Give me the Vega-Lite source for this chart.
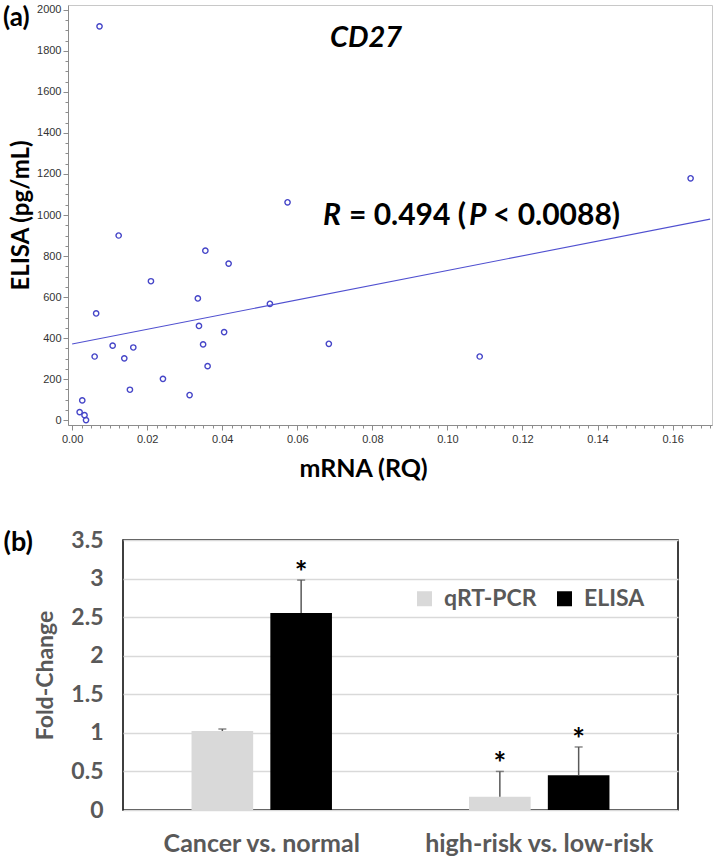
{
  "$schema": "https://vega.github.io/schema/vega-lite/v6.json",
  "padding": {"left": 1, "top": 3, "right": 0, "bottom": 0},
  "background": "white",
  "config": {"font": "Lato"},
  "datasets": {
    "points": [
      {"mrna": 0.0073, "elisa": 1920},
      {"mrna": 0.0574, "elisa": 1062},
      {"mrna": 0.0124, "elisa": 900},
      {"mrna": 0.0355, "elisa": 826},
      {"mrna": 0.0417, "elisa": 763},
      {"mrna": 0.0210, "elisa": 677},
      {"mrna": 0.0335, "elisa": 593},
      {"mrna": 0.0064, "elisa": 520},
      {"mrna": 0.0527, "elisa": 567},
      {"mrna": 0.0338, "elisa": 459},
      {"mrna": 0.0405, "elisa": 429},
      {"mrna": 0.0108, "elisa": 363},
      {"mrna": 0.0349, "elisa": 369},
      {"mrna": 0.0163, "elisa": 354},
      {"mrna": 0.0060, "elisa": 310},
      {"mrna": 0.0139, "elisa": 301},
      {"mrna": 0.0361, "elisa": 263},
      {"mrna": 0.0242, "elisa": 201},
      {"mrna": 0.0154, "elisa": 148},
      {"mrna": 0.0313, "elisa": 122},
      {"mrna": 0.0027, "elisa": 96},
      {"mrna": 0.0020, "elisa": 39},
      {"mrna": 0.0033, "elisa": 24},
      {"mrna": 0.0037, "elisa": 0},
      {"mrna": 0.0684, "elisa": 372},
      {"mrna": 0.1648, "elisa": 1179},
      {"mrna": 0.1086, "elisa": 310}
    ],
    "fit": [
      {"mrna": 0, "elisa": 371},
      {"mrna": 0.17, "elisa": 980}
    ],
    "bars": [
      {"group": "Cancer vs. normal", "method": "qRT-PCR", "fold": 1.024, "upper": 1.05, "star": ""},
      {"group": "Cancer vs. normal", "method": "ELISA", "fold": 2.553, "upper": 2.98, "star": "*"},
      {"group": "high-risk vs. low-risk", "method": "qRT-PCR", "fold": 0.172, "upper": 0.50, "star": "*"},
      {"group": "high-risk vs. low-risk", "method": "ELISA", "fold": 0.449, "upper": 0.817, "star": "*"}
    ]
  },
  "spacing": 45,
  "resolve": {"legend": {"color": "independent"}},
  "vconcat": [
    {
      "spacing": 0,
      "hconcat": [
        {
          "width": 1, "height": 1,
          "view": {"stroke": null},
          "data": {"values": [{"k": 0}]},
          "mark": {"type": "point", "opacity": 0, "size": 1, "strokeWidth": 0},
          "encoding": {}
        },
        {
          "width": 644,
          "height": 420,
          "view": {"stroke": "#c8c8c8", "strokeWidth": 1},
          "layer": [
            {
              "layer": [
                {
                  "data": {"name": "points"},
                  "mark": {"type": "point", "shape": "circle", "filled": false, "color": "#4646c8", "strokeWidth": 1.4, "size": 28, "opacity": 1},
                  "encoding": {
                    "x": {
                      "field": "mrna", "type": "quantitative",
                      "scale": {"domain": [-0.0011, 0.1705], "nice": false, "zero": false},
                      "axis": {
                        "values": [0,0.01,0.02,0.03,0.04,0.05,0.06,0.07,0.08,0.09,0.1,0.11,0.12,0.13,0.14,0.15,0.16,0.17],
                        "format": ".2f",
                        "labelFont": "Liberation Sans", "labelFontSize": 11, "labelColor": "#333333",
                        "labelPadding": 3, "labelOverlap": false, "labelFlush": false, "labelBound": false,
                        "tickColor": "#8c8c8c", "tickSize": 5,
                        "domainColor": "#8c8c8c", "grid": false,
                        "title": "mRNA (RQ)", "titleFont": "Lato", "titleFontSize": 25, "titleFontWeight": "bold", "titleColor": "#000000",
                        "titlePadding": 12, "titleX": 295, "titleAlign": "center"
                      }
                    },
                    "y": {
                      "field": "elisa", "type": "quantitative",
                      "scale": {"domain": [-24, 2024], "nice": false, "zero": false},
                      "axis": {
                        "values": [0,100,200,300,400,500,600,700,800,900,1000,1100,1200,1300,1400,1500,1600,1700,1800,1900,2000],
                        "format": "d",
                        "labelFont": "Liberation Sans", "labelFontSize": 11, "labelColor": "#333333",
                        "labelPadding": 2, "labelOverlap": false,
                        "tickColor": "#8c8c8c", "tickSize": 5,
                        "domainColor": "#8c8c8c", "grid": false,
                        "title": "ELISA (pg/mL)", "titleFont": "Lato", "titleFontSize": 24, "titleFontWeight": "bold", "titleColor": "#000000",
                        "titlePadding": 3
                      }
                    }
                  }
                },
                {
                  "data": {"name": "fit"},
                  "mark": {"type": "line", "color": "#5050d0", "strokeWidth": 1.1},
                  "encoding": {
                    "x": {"field": "mrna", "type": "quantitative"},
                    "y": {"field": "elisa", "type": "quantitative"}
                  }
                },
                {
                  "data": {"values": [{"mrna": 0.0687, "elisa": 1863, "label": "CD27"}]},
                  "mark": {"type": "text", "align": "left", "baseline": "middle", "font": "Lato", "fontWeight": "bold", "fontStyle": "italic", "fontSize": 29, "color": "#000000"},
                  "encoding": {
                    "x": {"field": "mrna", "type": "quantitative"},
                    "y": {"field": "elisa", "type": "quantitative"},
                    "text": {"field": "label"}
                  }
                },
                {
                  "data": {"values": [{"mrna": 0.06684, "elisa": 995, "label": "R"}, {"mrna": 0.10575, "elisa": 995, "label": "P"}]},
                  "mark": {"type": "text", "align": "left", "baseline": "middle", "font": "Lato", "fontWeight": "bold", "fontStyle": "italic", "fontSize": 30, "color": "#000000"},
                  "encoding": {
                    "x": {"field": "mrna", "type": "quantitative"},
                    "y": {"field": "elisa", "type": "quantitative"},
                    "text": {"field": "label"}
                  }
                },
                {
                  "data": {"values": [{"mrna": 0.07377, "elisa": 995, "label": "= 0.494 ("}, {"mrna": 0.11214, "elisa": 995, "label": "< 0.0088)"}]},
                  "mark": {"type": "text", "align": "left", "baseline": "middle", "font": "Lato", "fontWeight": "bold", "fontSize": 30, "color": "#000000"},
                  "encoding": {
                    "x": {"field": "mrna", "type": "quantitative"},
                    "y": {"field": "elisa", "type": "quantitative"},
                    "text": {"field": "label"}
                  }
                },
                {
                  "data": {"values": [{"mrna": -0.0184, "elisa": 1961, "label": "(a)"}]},
                  "mark": {"type": "text", "align": "left", "baseline": "middle", "font": "Lato", "fontWeight": "bold", "fontSize": 26, "color": "#000000"},
                  "encoding": {
                    "x": {"field": "mrna", "type": "quantitative"},
                    "y": {"field": "elisa", "type": "quantitative"},
                    "text": {"field": "label"}
                  }
                }
              ]
            },
            {
              "data": {"name": "points"},
              "mark": {"type": "point", "opacity": 0},
              "encoding": {
                "x": {
                  "field": "mrna", "type": "quantitative",
                  "scale": {"domain": [-0.0011, 0.1705], "nice": false, "zero": false},
                  "axis": {
                    "orient": "bottom",
                    "values": [0,0.0025,0.005,0.0075,0.01,0.0125,0.015,0.0175,0.02,0.0225,0.025,0.0275,0.03,0.0325,0.035,0.0375,0.04,0.0425,0.045,0.0475,0.05,0.0525,0.055,0.0575,0.06,0.0625,0.065,0.0675,0.07,0.0725,0.075,0.0775,0.08,0.0825,0.085,0.0875,0.09,0.0925,0.095,0.0975,0.1,0.1025,0.105,0.1075,0.11,0.1125,0.115,0.1175,0.12,0.1225,0.125,0.1275,0.13,0.1325,0.135,0.1375,0.14,0.1425,0.145,0.1475,0.15,0.1525,0.155,0.1575,0.16,0.1625,0.165,0.1675,0.17],
                    "labels": false, "domain": false, "grid": false, "title": null,
                    "tickColor": "#8c8c8c", "tickSize": 3
                  }
                },
                "y": {
                  "field": "elisa", "type": "quantitative",
                  "scale": {"domain": [-24, 2024], "nice": false, "zero": false},
                  "axis": {
                    "orient": "left",
                    "values": [0,50,100,150,200,250,300,350,400,450,500,550,600,650,700,750,800,850,900,950,1000,1050,1100,1150,1200,1250,1300,1350,1400,1450,1500,1550,1600,1650,1700,1750,1800,1850,1900,1950,2000],
                    "labels": false, "domain": false, "grid": false, "title": null,
                    "tickColor": "#8c8c8c", "tickSize": 3
                  }
                }
              }
            }
          ],
          "resolve": {"scale": {"x": "independent", "y": "independent"}}
        }
      ]
    },
    {
      "spacing": 0,
      "resolve": {"legend": {"color": "independent"}},
      "hconcat": [
        {
          "width": 1, "height": 1,
          "view": {"stroke": null},
          "data": {"values": [{"k": 0}]},
          "mark": {"type": "point", "opacity": 0, "size": 1, "strokeWidth": 0},
          "encoding": {}
        },
        {
          "width": 555,
          "height": 270,
          "data": {"name": "bars"},
          "view": {"stroke": "#000000", "strokeWidth": 1.5},
          "encoding": {
            "x": {
              "field": "group", "type": "nominal",
              "sort": ["Cancer vs. normal", "high-risk vs. low-risk"],
              "scale": {"paddingInner": 0.494, "paddingOuter": 0.247},
              "axis": {"title": null, "labelAngle": 0, "ticks": false, "domain": false, "labelFont": "Lato", "labelFontSize": 25, "labelFontWeight": "bold", "labelColor": "#595959", "labelPadding": 21, "labelLimit": 0}
            },
            "xOffset": {
              "field": "method", "type": "nominal",
              "sort": ["qRT-PCR", "ELISA"],
              "scale": {"paddingInner": 0.218, "paddingOuter": 0}
            }
          },
          "layer": [
            {
              "layer": [
                {
                  "mark": {"type": "bar"},
                  "encoding": {
                    "y": {
                      "field": "fold", "type": "quantitative",
                      "scale": {"domain": [0, 3.5], "nice": false},
                      "axis": {
                        "values": [0, 0.5, 1, 1.5, 2, 2.5, 3, 3.5], "format": "~g", "tickCount": 8,
                        "ticks": false, "domain": false, "labelOverlap": false,
                        "grid": true, "gridColor": "#d9d9d9", "gridWidth": 1.5,
                        "labelFont": "Lato", "labelFontSize": 23, "labelFontWeight": "bold", "labelColor": "#595959", "labelPadding": 20,
                        "title": "Fold-Change", "titleFont": "Lato", "titleFontSize": 23, "titleFontWeight": "bold", "titleColor": "#595959", "titlePadding": 13
                      }
                    },
                    "color": {
                      "field": "method", "type": "nominal",
                      "scale": {"domain": ["qRT-PCR", "ELISA"], "range": ["#d9d9d9", "#000000"]},
                      "legend": {
                        "orient": "none", "legendX": 290, "legendY": 47, "direction": "horizontal", "title": null,
                        "symbolType": "square", "symbolSize": 225, "symbolStrokeWidth": 0,
                        "labelFont": "Lato", "labelFontSize": 23, "labelFontWeight": "bold", "labelColor": "#595959",
                        "columnPadding": 16, "labelOffset": 8
                      }
                    }
                  }
                },
                {
                  "mark": {"type": "rule", "color": "#595959", "strokeWidth": 1.5},
                  "encoding": {
                    "y": {"field": "fold", "type": "quantitative"},
                    "y2": {"field": "upper"}
                  }
                },
                {
                  "mark": {"type": "tick", "color": "#595959", "thickness": 1.5, "size": 8, "orient": "horizontal"},
                  "encoding": {
                    "y": {"field": "upper", "type": "quantitative"}
                  }
                }
              ]
            },
            {
              "mark": {"type": "text", "font": "Lato", "fontSize": 30, "fontWeight": "bold", "color": "#000000", "baseline": "alphabetic", "dy": 3},
              "encoding": {
                "y": {
                  "field": "upper", "type": "quantitative",
                  "scale": {"domain": [0, 3.5], "nice": false},
                  "axis": {
                    "orient": "left", "title": "(b)", "labels": false, "ticks": false, "domain": false, "grid": false,
                    "titleAngle": 0, "titleX": -120, "titleY": 2, "titleAlign": "left", "titleBaseline": "middle",
                    "titleFont": "Lato", "titleFontSize": 27, "titleFontWeight": "bold", "titleColor": "#000000"
                  }
                },
                "text": {"field": "star"}
              }
            }
          ],
          "resolve": {"scale": {"y": "independent"}}
        }
      ]
    }
  ]
}
